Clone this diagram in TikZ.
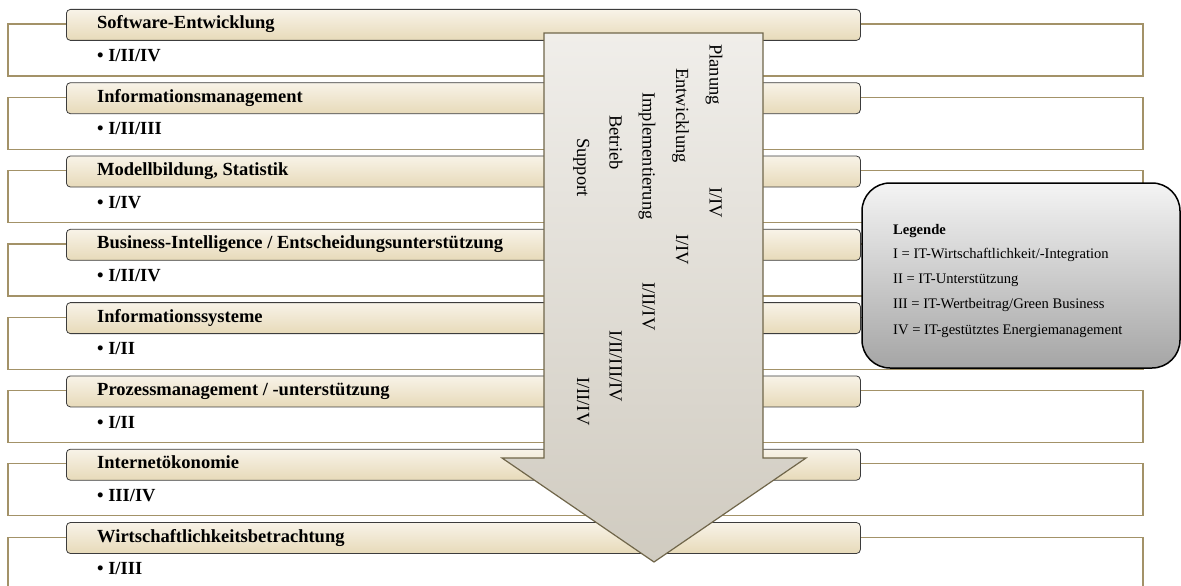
\documentclass[tikz,border=0pt]{standalone}
\usepackage{fontspec}
\setmainfont{Liberation Serif}
\begin{document}
\begin{tikzpicture}[x=1pt,y=-1pt,
  outerbox/.style={draw=tanline,line width=1.2pt,fill=white},
  hdrbox/.style={draw=hdrline,line width=0.8pt,rounded corners=4pt,top color=hdrtop,bottom color=hdrbot,anchor=north west,minimum width=794pt,minimum height=31pt,inner sep=0pt},
  hdrtext/.style={anchor=base west,inner sep=0pt,font=\fontsize{18.5}{22}\selectfont\bfseries},
  arrtext/.style={anchor=base west,inner sep=0pt,rotate=-90,font=\fontsize{18.5}{22}\selectfont},
  legtext/.style={anchor=base west,inner sep=0pt,font=\fontsize{14.6}{17}\selectfont}]
\definecolor{tanline}{RGB}{163,146,104}
\definecolor{hdrline}{RGB}{60,60,60}
\definecolor{hdrtop}{RGB}{248,243,232}
\definecolor{hdrbot}{RGB}{231,218,185}
\definecolor{arrtop}{RGB}{240,238,234}
\definecolor{arrbot}{RGB}{208,203,192}
\definecolor{arrline}{RGB}{112,102,74}
\definecolor{legtop}{RGB}{244,244,244}
\definecolor{legbot}{RGB}{165,165,165}
\useasboundingbox (0,0) rectangle (1181,586);
\newcommand\myrow[3]{%
  \pgfmathsetmacro\rowtop{9+73.3*#1}%
  \draw[outerbox] (8,\rowtop+15) rectangle (1143,\rowtop+67);
  \node[hdrbox] (hd#1) at (66,\rowtop) {};
  \node[hdrtext] (ht#1) at (97,\rowtop+20) {#2};
  \node[hdrtext] (bt#1) at (97,\rowtop+52.5) {\textbullet\ #3};
}
\myrow{0}{Software-Entwicklung}{I/II/IV}
\myrow{1}{Informationsmanagement}{I/II/III}
\myrow{2}{Modellbildung, Statistik}{I/IV}
\myrow{3}{Business-Intelligence / Entscheidungsunterstützung}{I/II/IV}
\myrow{4}{Informationssysteme}{I/II}
\myrow{5}{Prozessmanagement / -unterstützung}{I/II}
\myrow{6}{Internetökonomie}{III/IV}
\myrow{7}{Wirtschaftlichkeitsbetrachtung}{I/III}
% big arrow
\draw[draw=arrline,line width=1.2pt,top color=arrtop,bottom color=arrbot,line join=miter]
  (544,33) -- (763,33) -- (763,458) -- (806,458) -- (654,562) -- (502,458) -- (544,458) -- cycle;
\node[arrtext] (a1) at (709.5,44) {Planung};
\node[arrtext] (a2) at (676,68) {Entwicklung};
\node[arrtext] (a3) at (642.5,92) {Implementierung};
\node[arrtext] (a4) at (609.5,115) {Betrieb};
\node[arrtext] (a5) at (577,138) {Support};
\node[arrtext] (b1) at (709.5,187) {I/IV};
\node[arrtext] (b2) at (676,234) {I/IV};
\node[arrtext] (b3) at (642.5,282) {I/II/IV};
\node[arrtext] (b4) at (609.5,330) {I/II/III/IV};
\node[arrtext] (b5) at (577,377) {I/II/IV};
% legend
\draw[draw=black,line width=1.5pt,rounded corners=28pt,top color=legtop,bottom color=legbot]
  (862,183) rectangle (1180,368);
\node[legtext,font=\fontsize{14.6}{17}\selectfont\bfseries] (l0) at (893,234) {Legende};
\node[legtext] (l1) at (893,258) {I = IT-Wirtschaftlichkeit/-Integration};
\node[legtext] (l2) at (893,283) {II = IT-Unterstützung};
\node[legtext] (l3) at (893,308.5) {III = IT-Wertbeitrag/Green Business};
\node[legtext] (l4) at (893,334) {IV = IT-gestütztes Energiemanagement};
\end{tikzpicture}
\end{document}
